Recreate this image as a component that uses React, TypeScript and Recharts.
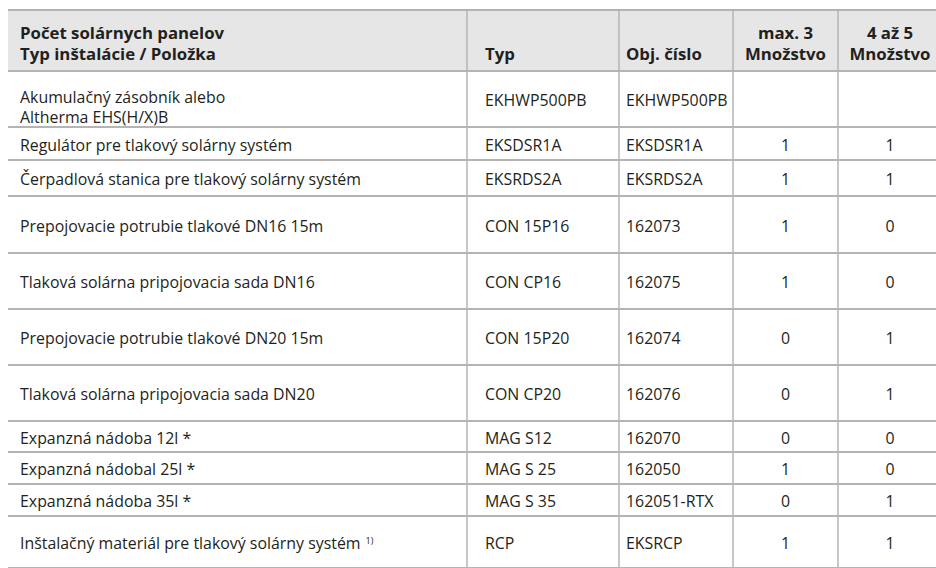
import React from "react";
import { Surface, Layer, Rectangle } from "recharts";

// table content
const headerItem = ["Počet solárnych panelov", "Typ inštalácie / Položka"];
const headerType = "Typ";
const headerOrder = "Obj. číslo";
const headerQtyA = ["max. 3", "Množstvo"];
const headerQtyB = ["4 až 5", "Množstvo"];

const items = [
  ["Akumulačný zásobník alebo", "Altherma EHS(H/X)B"],
  ["Regulátor pre tlakový solárny systém"],
  ["Čerpadlová stanica pre tlakový solárny systém"],
  ["Prepojovacie potrubie tlakové DN16 15m"],
  ["Tlaková solárna pripojovacia sada DN16"],
  ["Prepojovacie potrubie tlakové DN20 15m"],
  ["Tlaková solárna pripojovacia sada DN20"],
  ["Expanzná nádoba 12l *"],
  ["Expanzná nádobal 25l *"],
  ["Expanzná nádoba 35l *"],
  ["Inštalačný materiál pre tlakový solárny systém"],
];
const footnotes = ["", "", "", "", "", "", "", "", "", "", "1)"];
const types = [
  "EKHWP500PB", "EKSDSR1A", "EKSRDS2A", "CON 15P16", "CON CP16", "CON 15P20",
  "CON CP20", "MAG S12", "MAG S 25", "MAG S 35", "RCP",
];
const orderNumbers = [
  "EKHWP500PB", "EKSDSR1A", "EKSRDS2A", "162073", "162075", "162074",
  "162076", "162070", "162050", "162051-RTX", "EKSRCP",
];
const qtyMax3 = ["", "1", "1", "1", "1", "0", "0", "0", "1", "0", "1"];
const qty4to5 = ["", "1", "1", "0", "0", "1", "1", "0", "0", "1", "1"];

// layout
const W = 936;
const H = 568;
const COLS = [8, 467, 619, 733, 838, 942];
const HEAD_TOP = 10;
const HEAD_BOTTOM = 71;
const ROW_BOTTOMS = [127, 160, 196, 253, 309, 365, 421, 452, 484, 516, 568];

const FONT = "'Open Sans', 'Noto Sans', sans-serif";
const TEXT = "#231f20";
const LINE = "#b4b4b4";
const FS = 15.9;
const FS_BOLD = 16.8;

function T({ x, y, children, anchor = "start", bold = false }: any) {
  return (
    <text
      x={x}
      y={y}
      textAnchor={anchor}
      dominantBaseline="central"
      fontFamily={FONT}
      fontSize={bold ? FS_BOLD : FS}
      fontWeight={bold ? 700 : 400}
      fill={TEXT}
    >
      {children}
    </text>
  );
}

export default function App() {
  const tops = [HEAD_BOTTOM, ...ROW_BOTTOMS.slice(0, -1)];
  const cA = (COLS[3] + COLS[4]) / 2;
  const cB = (COLS[4] + COLS[5]) / 2;

  return (
    <div style={{ position: "absolute", left: 0, top: 0, width: W, height: H, overflow: "hidden", background: "#fff" }}>
      <Surface width={W} height={H}>
        <Rectangle x={COLS[0]} y={HEAD_TOP} width={W - COLS[0]} height={HEAD_BOTTOM - HEAD_TOP} fill="#e6e6e7" />

        {/* vertical rules */}
        <Layer>
          {COLS.slice(1, 5).map((x) => (
            <line key={x} x1={x} x2={x} y1={HEAD_TOP} y2={H} stroke={LINE} strokeWidth={1.5} />
          ))}
        </Layer>

        {/* horizontal rules */}
        <Layer>
          {[HEAD_TOP, HEAD_BOTTOM, ...ROW_BOTTOMS].map((y) => (
            <line key={y} x1={COLS[0]} x2={W} y1={y} y2={y} stroke={LINE} strokeWidth={2} />
          ))}
        </Layer>

        {/* header */}
        <Layer>
          <T x={20} y={32} bold>{headerItem[0]}</T>
          <T x={20} y={53} bold>{headerItem[1]}</T>
          <T x={COLS[1] + 18} y={53} bold>{headerType}</T>
          <T x={COLS[2] + 7} y={53} bold>{headerOrder}</T>
          <T x={cA} y={32} anchor="middle" bold>{headerQtyA[0]}</T>
          <T x={cA} y={53} anchor="middle" bold>{headerQtyA[1]}</T>
          <T x={cB} y={32} anchor="middle" bold>{headerQtyB[0]}</T>
          <T x={cB} y={53} anchor="middle" bold>{headerQtyB[1]}</T>
        </Layer>

        {/* body */}
        <Layer>
          {items.map((lines, i) => {
            const mid = (tops[i] + ROW_BOTTOMS[i]) / 2 + 1;
            return (
              <g key={i}>
                {lines.length > 1 ? (
                  lines.map((l, j) => (
                    <T key={j} x={20} y={97 + j * 20}>{l}</T>
                  ))
                ) : (
                  <text
                    x={20}
                    y={mid}
                    dominantBaseline="central"
                    fontFamily={FONT}
                    fontSize={FS}
                    fill={TEXT}
                  >
                    {lines[0]}
                    {footnotes[i] && (
                      <tspan fontSize={9} dx={5} dy={-3}>{footnotes[i]}</tspan>
                    )}
                  </text>
                )}
                <T x={COLS[1] + 18} y={i === 0 ? 100 : mid}>{types[i]}</T>
                <T x={COLS[2] + 7} y={i === 0 ? 100 : mid}>{orderNumbers[i]}</T>
                <T x={cA} y={mid} anchor="middle">{qtyMax3[i]}</T>
                <T x={cB} y={mid} anchor="middle">{qty4to5[i]}</T>
              </g>
            );
          })}
        </Layer>
      </Surface>
    </div>
  );
}
